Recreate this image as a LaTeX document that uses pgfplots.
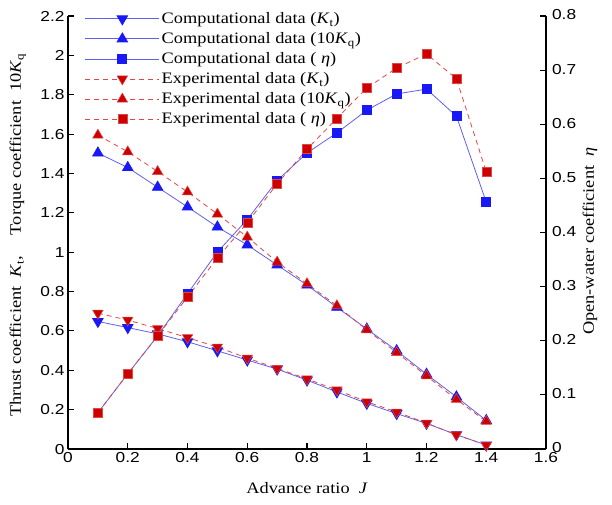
\documentclass[border=0pt]{standalone}
\usepackage{pgfplots}
\pgfplotsset{compat=1.18}
\usepackage{fontspec}
\setmainfont[FakeStretch=1.15]{Liberation Serif}
\newfontfamily\ticksf[FakeStretch=1.2]{Liberation Sans}
\definecolor{cblue}{RGB}{25,25,245}
\definecolor{lblue}{RGB}{95,95,235}
\definecolor{cred}{RGB}{205,0,0}
\definecolor{lred}{RGB}{225,70,70}
\pgfplotsset{
  compline/.style={color=lblue, line width=0.8bp},
  expline/.style={color=lred, line width=0.8bp, dash pattern=on 5bp off 4bp},
  cdown/.style={compline, mark=triangle*, mark size=6bp, mark options={solid, fill=cblue, draw=cblue, rotate=180}},
  cup/.style={compline, mark=triangle*, mark size=6bp, mark options={solid, fill=cblue, draw=cblue}},
  csq/.style={compline, mark=square*, mark size=4.5bp, mark options={solid, fill=cblue, draw=cblue}},
  edown/.style={expline, mark=triangle*, mark size=6bp, mark options={solid, fill=cred, draw=lred, line width=0.5bp, rotate=180}},
  eup/.style={expline, mark=triangle*, mark size=6bp, mark options={solid, fill=cred, draw=lred, line width=0.5bp}},
  esq/.style={expline, mark=square*, mark size=4.5bp, mark options={solid, fill=cred, draw=lred, line width=0.5bp}},
  common/.style={
    scale only axis, width=478bp, height=433bp,
    xmin=0, xmax=1.6, clip=false,
    tick align=inside, major tick length=6bp,
    axis line style={line width=1.3bp},
    every tick/.style={line width=1.1bp, black},
    tick label style={font=\ticksf\fontsize{14.5}{16}\selectfont},
    /pgf/number format/assume math mode=true,
    label style={font=\fontsize{16}{18}\selectfont},
  },
}
\begin{document}
\begin{tikzpicture}
\begin{axis}[common,
  axis x line*=bottom, axis y line*=left,
  ymin=0, ymax=2.2,
  xtick={0,0.2,...,1.6},
  xticklabels={0,0.2,0.4,0.6,0.8,1,1.2,1.4,1.6},
  ytick={0,0.2,...,2.2},
  yticklabels={0,0.2,0.4,0.6,0.8,1,1.2,1.4,1.6,1.8,2,2.2},
  xlabel={Advance ratio \ \textit{J}},
  ylabel={Thrust coefficient \ \textit{K}\textsubscript{t}, \quad Torque coefficient \ 10\textit{K}\textsubscript{q}},
  xlabel style={at={(axis description cs:0.5,-0.09)}, anchor=center},
  ylabel style={at={(axis description cs:-0.105,0.494)}, anchor=center},
]
\path (axis description cs:-0.1423,-0.127) rectangle (axis description cs:1.138,1.037);
\addplot[cdown] coordinates {
(0.1,0.648)(0.2,0.617)(0.3,0.585)(0.4,0.545)(0.5,0.499)(0.6,0.452)(0.7,0.406)(0.8,0.350)(0.9,0.290)(1.0,0.232)(1.1,0.180)(1.2,0.130)(1.3,0.073)(1.4,0.020)};
\addplot[cup] coordinates {
(0.1,1.504)(0.2,1.430)(0.3,1.330)(0.4,1.230)(0.5,1.128)(0.6,1.037)(0.7,0.935)(0.8,0.833)(0.9,0.720)(1.0,0.610)(1.1,0.500)(1.2,0.380)(1.3,0.265)(1.4,0.145)};
\addplot[edown] coordinates {
(0.1,0.690)(0.2,0.655)(0.3,0.612)(0.4,0.566)(0.5,0.518)(0.6,0.462)(0.7,0.410)(0.8,0.356)(0.9,0.300)(1.0,0.240)(1.1,0.188)(1.2,0.132)(1.3,0.072)(1.4,0.020)};
\addplot[eup] coordinates {
(0.1,1.595)(0.2,1.510)(0.3,1.410)(0.4,1.306)(0.5,1.194)(0.6,1.077)(0.7,0.950)(0.8,0.840)(0.9,0.728)(1.0,0.605)(1.1,0.490)(1.2,0.372)(1.3,0.252)(1.4,0.140)};
\end{axis}
\begin{axis}[common,
  axis x line=none, axis y line*=right,
  ymin=0, ymax=0.8,
  ytick={0,0.1,...,0.8},
  yticklabels={0,0.1,0.2,0.3,0.4,0.5,0.6,0.7,0.8},
  yticklabel style={xshift=2.5bp, yshift=1bp},
  ylabel={Open-water coefficient \ \textit{η}},
  ylabel style={at={(axis description cs:1.092,0.48)}, anchor=center},
  legend cell align=left,
  legend style={draw=none, fill=none, at={(axis description cs:0.035,1.013)}, anchor=north west,
    font=\fontsize{16}{18}\selectfont, row sep=3.5bp, inner sep=0pt,
    /tikz/every even column/.append style={column sep=9bp}},
  legend image code/.code={\draw[mark repeat=2, mark phase=2, #1] plot coordinates {(0bp,0bp)(37bp,0bp)(74bp,0bp)};},
]
\addlegendimage{cdown}
\addlegendentry{Computational data (\textit{K}\textsubscript{t})}
\addlegendimage{cup}
\addlegendentry{Computational data (10\textit{K}\textsubscript{q})}
\addplot[csq] coordinates {
(0.1,0.067)(0.2,0.139)(0.3,0.209)(0.4,0.287)(0.5,0.364)(0.6,0.424)(0.7,0.496)(0.8,0.547)(0.9,0.584)(1.0,0.626)(1.1,0.656)(1.2,0.665)(1.3,0.615)(1.4,0.456)};
\addlegendentry{Computational data ( \textit{η})}
\addlegendimage{edown}
\addlegendentry{Experimental data (\textit{K}\textsubscript{t})}
\addlegendimage{eup}
\addlegendentry{Experimental data (10\textit{K}\textsubscript{q})}
\addplot[esq] coordinates {
(0.1,0.067)(0.2,0.139)(0.3,0.209)(0.4,0.281)(0.5,0.353)(0.6,0.418)(0.7,0.490)(0.8,0.554)(0.9,0.611)(1.0,0.667)(1.1,0.704)(1.2,0.730)(1.3,0.684)(1.4,0.512)};
\addlegendentry{Experimental data ( \textit{η})}
\end{axis}
\end{tikzpicture}
\end{document}
